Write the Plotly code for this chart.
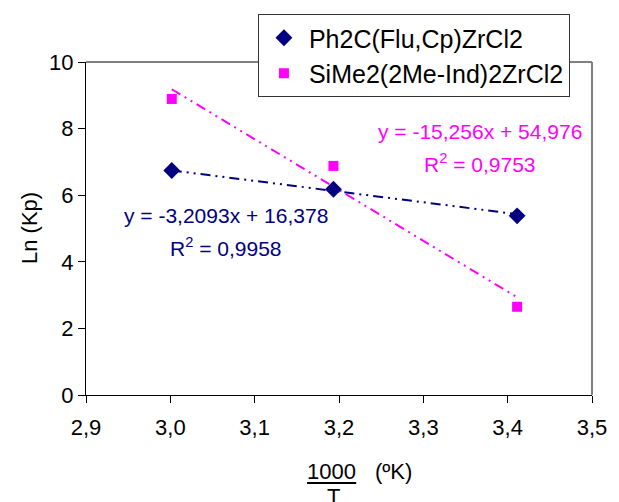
import numpy as np
import plotly.graph_objects as go

# 1000/T values (three temperatures) and Ln(Kp)
inv_t = [3.0017, 3.1934, 3.4112]
ph2c = [6.74, 6.18, 5.38]
sime2 = [8.89, 6.88, 2.65]

# trendline coefficients as printed on the chart
ph2c_fit = (-3.2093, 16.378)
sime2_fit = (-15.256, 54.976)

names = ["Ph2C(Flu,Cp)ZrCl2", "SiMe2(2Me-Ind)2ZrCl2"]
eq_lines = [("y = -3,2093x + 16,378", "R<sup>2</sup> = 0,9958"),
            ("y = -15,256x + 54,976", "R<sup>2</sup> = 0,9753")]

navy = "#000080"
magenta = "#FF00FF"
font = "Arial, Liberation Sans, sans-serif"

fig = go.Figure()

x_end = np.array([min(inv_t), max(inv_t)])
for coef, col in [(ph2c_fit, navy), (sime2_fit, magenta)]:
    fig.add_trace(go.Scatter(x=x_end, y=coef[0] * x_end + coef[1], mode="lines",
                             line=dict(color=col, width=2, dash="10px,5px,2px,5px,2px,5px"),
                             showlegend=False, hoverinfo="skip"))

fig.add_trace(go.Scatter(x=inv_t, y=ph2c, mode="markers", name=names[0],
                         marker=dict(symbol="diamond", size=13, color=navy),
                         legendgroup="a"))
fig.add_trace(go.Scatter(x=inv_t, y=sime2, mode="markers", name=names[1],
                         marker=dict(symbol="square", size=10, color=magenta),
                         legendgroup="b"))

# plot area in pixels: x 86..601, y 62..395
def px(x, y):
    return (x - 86) / 515, (395 - y) / 333

ann = []
for (line1, line2), col, cx, y1, y2 in [(eq_lines[0], navy, 228, 215, 247),
                                       (eq_lines[1], magenta, 487, 131, 163)]:
    ex, ey = px(cx, y1)
    ann.append(dict(x=ex, y=ey, text=line1, font=dict(color=col, size=21)))
    ex, ey = px(cx, y2)
    ann.append(dict(x=ex, y=ey, text=line2, font=dict(color=col, size=21)))
ex, ey = px(28, 228)
ann.append(dict(x=ex, y=ey, text="Ln (Kp)", textangle=-90, font=dict(size=22)))
ex, ey = px(336, 471)
ann.append(dict(x=ex, y=ey, text="1000", font=dict(size=22)))
ex, ey = px(399, 471)
ann.append(dict(x=ex, y=ey, text="(ºK)", font=dict(size=22)))
ex, ey = px(338, 496)
ann.append(dict(x=ex, y=ey, text="T", font=dict(size=22)))
for a in ann:
    a.update(xref="paper", yref="paper", showarrow=False, xanchor="center", yanchor="middle")

x0, ly = px(311, 483)
x1, _ = px(361, 483)
shapes = [
    dict(type="line", xref="paper", yref="paper", x0=x0, x1=x1, y0=ly, y1=ly,
         line=dict(color="black", width=2)),
    dict(type="line", xref="paper", yref="paper", x0=0, x1=1, y0=1, y1=1,
         line=dict(color="#808080", width=2)),
    dict(type="line", xref="paper", yref="paper", x0=1, x1=1, y0=0, y1=1,
         line=dict(color="#808080", width=2)),
]

lx, lyy = px(261, 14)
fig.update_layout(
    width=619, height=502,
    margin=dict(l=86, r=18, t=62, b=107),
    paper_bgcolor="white", plot_bgcolor="white",
    font=dict(family=font, size=22, color="black"),
    separators=",.",
    annotations=ann, shapes=shapes,
    legend=dict(x=lx, y=lyy, xanchor="left", yanchor="top",
                bgcolor="white", bordercolor="#333333", borderwidth=1,
                font=dict(size=25), tracegroupgap=0, traceorder="grouped",
                itemwidth=40),
    xaxis=dict(range=[2.9, 3.5], dtick=0.1, tickformat=".1f", showgrid=False,
               zeroline=False, showline=True, linecolor="black", linewidth=1,
               ticks="outside", ticklen=7, tickcolor="black", ticklabelstandoff=6),
    yaxis=dict(range=[0, 10], dtick=2, showgrid=False, zeroline=False,
               showline=True, linecolor="black", linewidth=1,
               ticks="outside", ticklen=7, tickcolor="black"),
)

# drop the page's default body margin so the figure sits at the window's corner
fig.write_html("out.html", config={"displayModeBar": False},
               post_script="document.body.style.margin='0';")
